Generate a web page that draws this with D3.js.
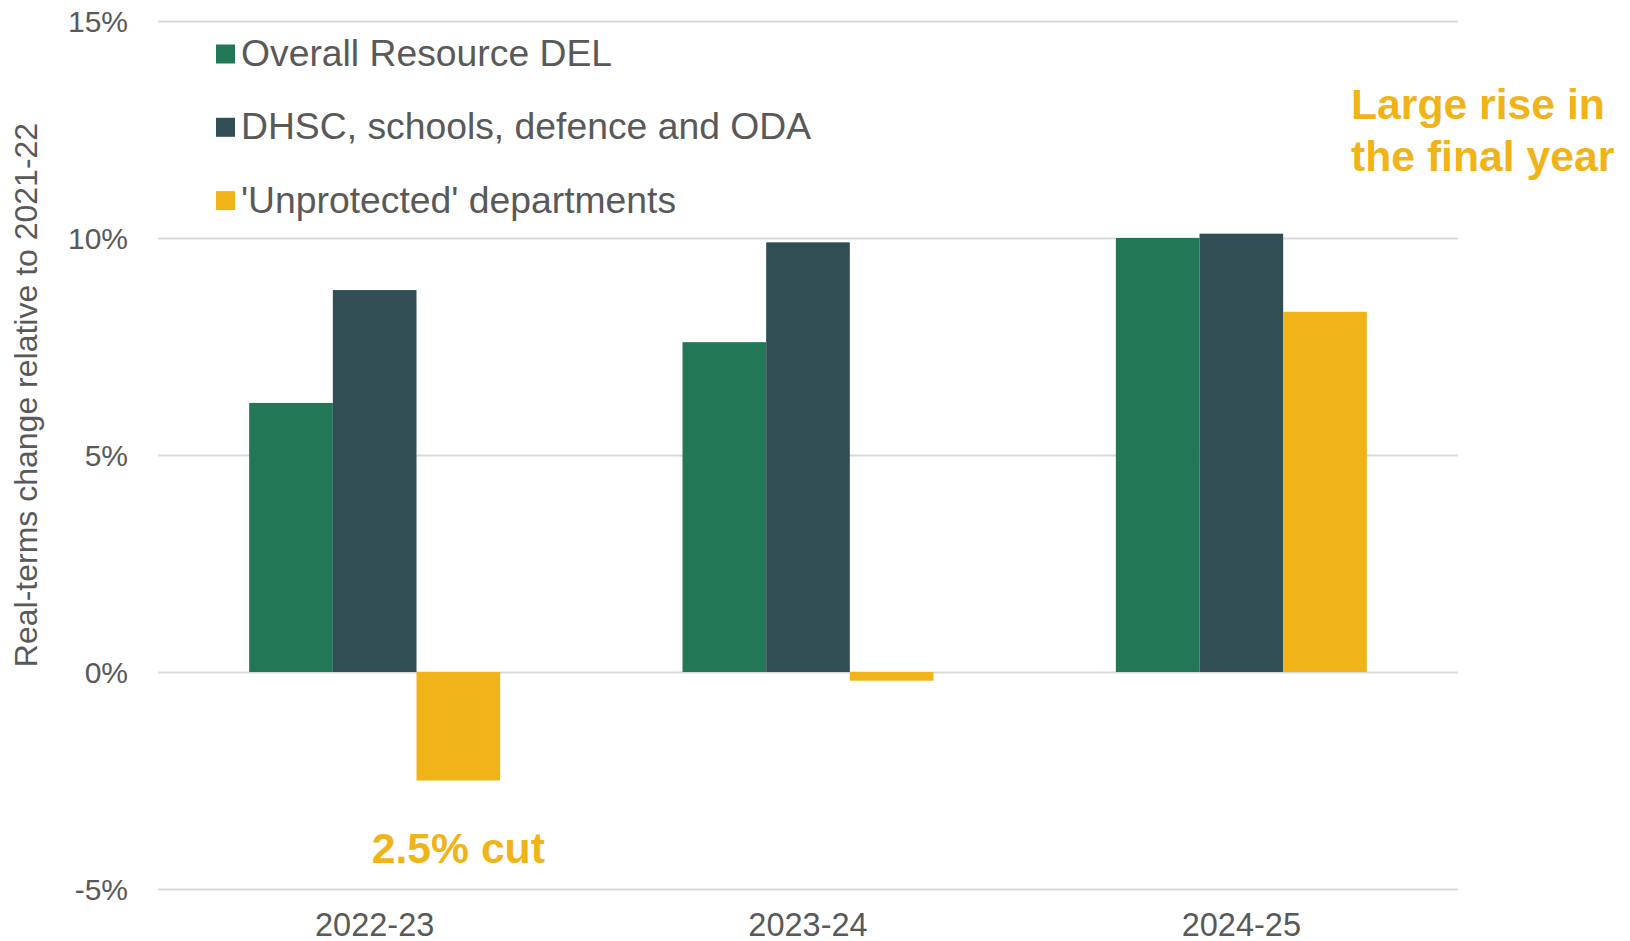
<!DOCTYPE html>
<html>
<head>
<meta charset="utf-8">
<script src="https://cdn.jsdelivr.net/npm/d3@7"></script>
<style>
  body { margin: 0; background: #fff; }
  svg { font-family: "Liberation Sans", Arial, sans-serif; }
  .tick text { fill: #595959; }
</style>
</head>
<body>
<svg id="chart" width="1630" height="941"></svg>
<script>
// Data
const years = ["2022-23", "2023-24", "2024-25"];
const seriesNames = ["Overall Resource DEL", "DHSC, schools, defence and ODA", "'Unprotected' departments"];
const overallDEL = [6.2, 7.6, 10.0];
const protectedDepts = [8.8, 9.9, 10.1];
const unprotectedDepts = [-2.5, -0.2, 8.3];
const yTicks = [-5, 0, 5, 10, 15];

const colors = ["#217756", "#314e54", "#f0b418"];
const values = [overallDEL, protectedDepts, unprotectedDepts];

const svg = d3.select("#chart");
const plotLeft = 158, plotRight = 1458, plotTop = 21, plotBottom = 889;

// Scales
const x = d3.scaleBand().domain(years).range([plotLeft, plotRight]).paddingInner(0).paddingOuter(0);
const xSub = d3.scaleBand().domain(seriesNames).range([0, x.bandwidth()]).paddingInner(0).paddingOuter(1.09);
const y = d3.scaleLinear().domain([-5, 15]).range([plotBottom, plotTop]);
const color = d3.scaleOrdinal().domain(seriesNames).range(colors);

// Gridlines
svg.append("g")
    .attr("transform", `translate(${plotLeft},0)`)
    .call(d3.axisLeft(y).tickValues(yTicks).tickSize(-(plotRight - plotLeft)).tickFormat(d => d + "%"))
    .call(g => g.select(".domain").remove())
    .call(g => g.selectAll(".tick line").attr("stroke", "#d9d9d9").attr("stroke-width", 2))
    .call(g => g.selectAll(".tick text")
        .attr("x", -30)
        .attr("dy", "0.35em")
        .style("font-size", "30px"));

// Bars
const table = years.map((yr, i) => ({
    year: yr,
    items: seriesNames.map((s, j) => ({ series: s, value: values[j][i] }))
}));

svg.append("g")
    .selectAll("g")
    .data(table)
    .join("g")
    .attr("transform", d => `translate(${x(d.year)},0)`)
    .selectAll("rect")
    .data(d => d.items)
    .join("rect")
    .attr("x", d => xSub(d.series))
    .attr("width", xSub.bandwidth())
    .attr("y", d => y(Math.max(0, d.value)))
    .attr("height", d => Math.abs(y(d.value) - y(0)))
    .attr("fill", d => color(d.series));

// X axis labels
svg.append("g")
    .attr("transform", `translate(0,${plotBottom})`)
    .call(d3.axisBottom(x).tickSize(0).tickPadding(0))
    .call(g => g.select(".domain").remove())
    .call(g => g.selectAll(".tick text")
        .attr("y", 47)
        .attr("dy", 0)
        .style("font-size", "32.5px"));

// Y axis label
svg.append("text")
    .attr("transform", `translate(37,395) rotate(-90)`)
    .attr("text-anchor", "middle")
    .attr("fill", "#595959")
    .style("font-size", "32px")
    .text("Real-terms change relative to 2021-22");

// Legend
const legend = svg.append("g")
    .attr("transform", "translate(216,54)")
    .selectAll("g")
    .data(seriesNames)
    .join("g")
    .attr("transform", (d, i) => `translate(0,${i * 73.3})`);

legend.append("rect")
    .attr("y", -9.5)
    .attr("width", 19)
    .attr("height", 19)
    .attr("fill", d => color(d));

legend.append("text")
    .attr("x", 25)
    .attr("y", 12)
    .attr("fill", "#595959")
    .style("font-size", "37.3px")
    .text(d => d);

// Annotations
const note = svg.append("text")
    .attr("fill", "#f0b418")
    .style("font-size", "42.7px")
    .style("font-weight", "bold");
note.append("tspan").attr("x", 1351).attr("y", 119).text("Large rise in");
note.append("tspan").attr("x", 1351).attr("y", 171).text("the final year");

svg.append("text")
    .attr("x", x(years[0]) + xSub(seriesNames[2]) + xSub.bandwidth() / 2)
    .attr("y", 863)
    .attr("text-anchor", "middle")
    .attr("fill", "#f0b418")
    .style("font-size", "42.7px")
    .style("font-weight", "bold")
    .text("2.5% cut");
</script>
</body>
</html>
